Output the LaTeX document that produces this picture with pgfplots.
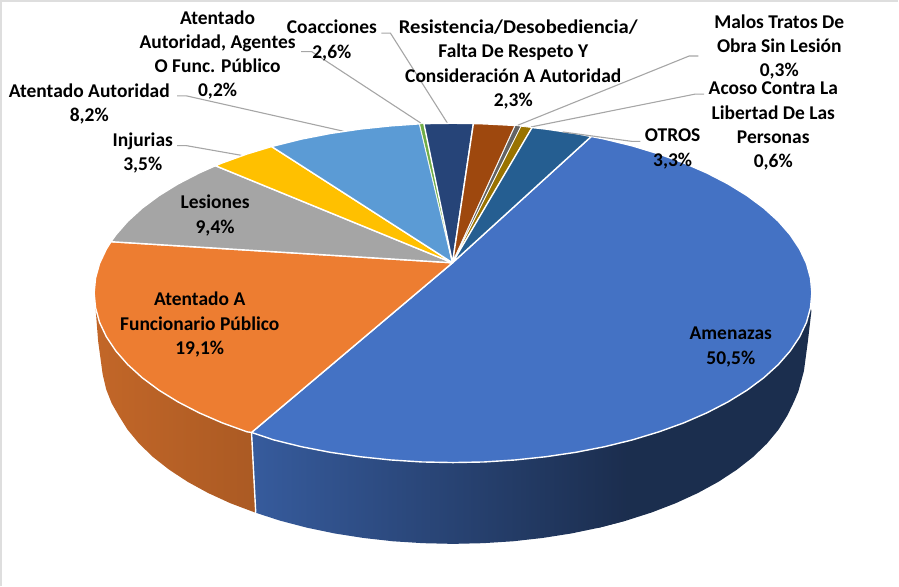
\documentclass[border=0pt]{standalone}
\usepackage{pgfplots}
\usepackage{fontspec}
\setmainfont{Carlito}
\pgfplotsset{compat=1.18}
\definecolor{cAmen}{HTML}{4472C4}
\definecolor{cAten}{HTML}{ED7D31}
\definecolor{cLes}{HTML}{A5A5A5}
\definecolor{cInj}{HTML}{FFC000}
\definecolor{cAut}{HTML}{5B9BD5}
\definecolor{cFunc}{HTML}{70AD47}
\definecolor{cCoac}{HTML}{264478}
\definecolor{cRes}{HTML}{9E480E}
\definecolor{cMal}{HTML}{636363}
\definecolor{cAco}{HTML}{997300}
\definecolor{cOtr}{HTML}{255E91}
\definecolor{leader}{HTML}{A6A6A6}
\definecolor{frame}{HTML}{DEDEDE}
\tikzset{
    wedge/.style={fill=#1, draw=white, line width=1.4pt, line join=round},
    lead/.style={draw=leader, line width=1.1pt},
    lab/.style={font=\fontsize{19.4}{24.2}\selectfont\bfseries, align=center, text=black, inner sep=0pt},
}
\begin{document}
\begin{tikzpicture}
\begin{axis}[
    at={(0,0)}, anchor=south west,
    scale only axis, width=899pt, height=585pt,
    xmin=-1.5, xmax=897.5, ymin=-1, ymax=584, y dir=reverse,
    hide axis, clip=false,
]
% frame of the pasted picture
\addplot[draw=frame, line width=1.5pt] coordinates {(3.5,584)(3.5,1)(897.5,1)};

% side walls
\addplot[draw=none, left color=cAten!82!black, right color=cAten!72!black] coordinates {
 (97.9,306.7)(101.9,321.3)(108.7,335.7)(118.1,349.8)(130,363.4)(144.4,376.5)(161.1,388.9)(180.1,400.6)(201.2,411.5)(224.2,421.5)(248.9,430.4)(253.3,431)
 (257.5,511)(232.2,501.5)(210,491.3)(189.7,480.2)(171.4,468.2)(155.2,455.5)(141.3,442.1)(129.8,428.2)(120.8,413.8)(114,402)(108.5,388)(105,373)(100.5,340)} -- cycle;
% dark part runs under the shaded part so no seam shows
\addplot[fill=cAmen!40!black, draw=none] coordinates {
 (605.1,445.2)(626.5,440)(632.8,438.4)(659.1,430.4)(683.8,421.5)(706.8,411.5)(727.9,400.6)(746.9,388.9)(763.6,376.5)(778,363.4)(789.9,349.8)(799.3,335.7)(806.1,321.3)(810.1,306.7)
 (811,310)(807.5,340)(803.5,370)(798,390)(793.8,400)(787.2,413.8)(778.2,428.2)(766.7,442.1)(752.8,455.5)(736.6,468.2)(718.3,480.2)(698,491.3)(675.8,501.5)(651.9,510.7)(626.5,518.8)(599.8,525.8)} -- cycle;
\addplot[draw=none, left color=cAmen!80!black, right color=cAmen!40!black] coordinates {
 (253.3,431)(275.3,438.4)(302.9,445.2)(331.7,450.8)(361.5,455.2)(391.9,458.4)(422.8,460.4)(454,461)(485.2,460.4)(516.1,458.4)(546.5,455.2)(576.3,450.8)(605.1,445.2)(626.5,440)
 (626.5,518.8)(599.8,525.8)(572,531.6)(543.3,536.1)(513.9,539.4)(484.1,541.3)(454,542)(423.9,541.3)(394.1,539.4)(364.7,536.1)(336,531.6)(308.2,525.8)(281.5,518.8)(257.5,511)} -- cycle;
\addplot[draw=white, line width=1.4pt] coordinates {(253.3,431)(257.5,511)};

% leader lines behind the top
\addplot[lead] coordinates {(302.7,51.7)(313.3,51.7)(421.7,122.7)};
\addplot[lead] coordinates {(382.7,33.3)(391.7,33.3)(448.3,122.7)};
\addplot[lead] coordinates {(179.3,95.7)(188.3,95.7)(345,131)};
\addplot[lead] coordinates {(179.3,145.3)(188.3,145.3)(243.3,155)};
\addplot[lead] coordinates {(698.3,56)(689.3,56)(518.5,125)};
\addplot[lead] coordinates {(704,94)(695,94)(531.7,126.7)};

% top of the pie
\addplot[wedge=cAmen] coordinates {(453.5,262)(591.7,136.2)(605.1,138.8)(632.8,145.6)(659.1,153.6)(683.8,162.5)(706.8,172.5)(727.9,183.4)(746.9,195.1)(763.6,207.5)(778,220.6)(789.9,234.2)(799.3,248.3)(806.1,262.7)(810.1,277.3)(811.5,292)(810.1,306.7)(806.1,321.3)(799.3,335.7)(789.9,349.8)(778,363.4)(763.6,376.5)(746.9,388.9)(727.9,400.6)(706.8,411.5)(683.8,421.5)(659.1,430.4)(632.8,438.4)(605.1,445.2)(576.3,450.8)(546.5,455.2)(516.1,458.4)(485.2,460.4)(454,461)(422.8,460.4)(391.9,458.4)(361.5,455.2)(331.7,450.8)(302.9,445.2)(275.3,438.4)(253.3,431)} -- cycle;
\addplot[wedge=cAten] coordinates {(453.5,262)(253.3,431)(248.9,430.4)(224.2,421.5)(201.2,411.5)(180.1,400.6)(161.1,388.9)(144.4,376.5)(130,363.4)(118.1,349.8)(108.7,335.7)(101.9,321.3)(97.9,306.7)(96.5,292)(97.9,277.3)(101.9,262.7)(108.7,248.3)(113.3,241)} -- cycle;
\addplot[wedge=cLes] coordinates {(453.5,262)(113.3,241)(118.1,234.2)(130,220.6)(144.4,207.5)(161.1,195.1)(180.1,183.4)(201.2,172.5)(217.3,165.3)} -- cycle;
\addplot[wedge=cInj] coordinates {(453.5,262)(217.3,165.3)(224.2,162.5)(248.9,153.6)(273.3,146.2)} -- cycle;
\addplot[wedge=cAut] coordinates {(453.5,262)(273.3,146.2)(302.9,138.8)(331.7,133.2)(361.5,128.8)(391.9,125.6)(420.7,123.6)} -- cycle;
\addplot[fill=cFunc, draw=white, line width=0.5pt] coordinates {(453.5,262)(420.7,123.6)(425,123.4)} -- cycle;
\addplot[wedge=cCoac] coordinates {(453.5,262)(425,123.4)(454,123)(474.3,123.3)} -- cycle;
\addplot[wedge=cRes] coordinates {(453.5,262)(474.3,123.3)(485.2,123.6)(516,125.2)} -- cycle;
\addplot[fill=cMal, draw=white, line width=0.6pt] coordinates {(453.5,262)(516,125.2)(521.7,126)} -- cycle;
\addplot[fill=cAco, draw=white, line width=0.8pt] coordinates {(453.5,262)(521.7,126)(532.7,127.3)} -- cycle;
\addplot[wedge=cOtr] coordinates {(453.5,262)(532.7,127.3)(546.5,128.8)(576.3,133.2)(591.7,136.2)} -- cycle;

% this one runs over the top
\addplot[lead] coordinates {(640.7,141)(631.7,141)(563.3,131.7)};

\node[lab] at (axis cs:219.5,55) {Atentado\\Autoridad, Agentes\\O Func. Público\\0,2\%};
\node[lab] at (axis cs:333.3,40.5) {Coacciones\\2,6\%};
\node[lab] at (axis cs:91.7,103.5) {Atentado Autoridad\\8,2\%};
\node[lab] at (axis cs:145,152.5) {Injurias\\3,5\%};
\node[lab] at (axis cs:514,64.5) {\hspace*{10pt}\scalebox{1.06}[1]{Resistencia/Desobediencia/}\\Falta De Respeto Y\\Consideración A Autoridad\\2,3\%};
\node[lab] at (axis cs:779,47) {Malos Tratos De\\Obra Sin Lesión\\0,3\%};
\node[lab] at (axis cs:773,126) {Acoso Contra La\\Libertad De Las\\Personas\\0,6\%};
\node[lab] at (axis cs:672.8,148.5) {OTROS\\3,3\%};
\node[lab] at (axis cs:217,215) {Lesiones\\9,4\%};
\node[lab] at (axis cs:201.7,323.7) {Atentado A\\Funcionario Público\\19,1\%};
\node[lab] at (axis cs:730.7,346) {Amenazas\\50,5\%};
\end{axis}
\end{tikzpicture}
\end{document}
